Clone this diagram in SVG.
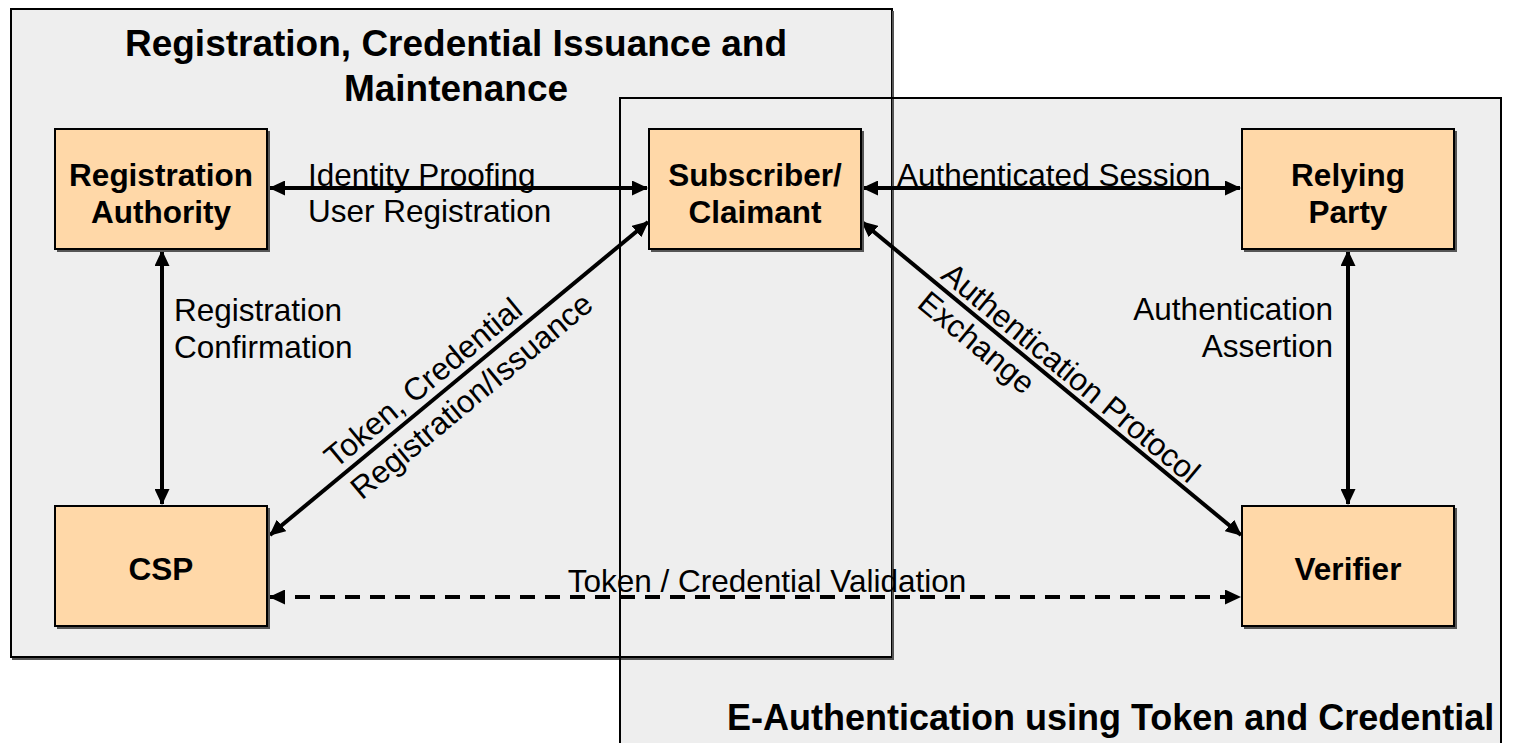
<svg xmlns="http://www.w3.org/2000/svg" width="1524" height="743" viewBox="0 0 1524 743">
<style>
.cont{fill:#eeeeee;stroke:none}
.cb{fill:none;stroke:#000;stroke-width:2}
.node{fill:#ffd8a8;stroke:#000;stroke-width:2}
.shadow{fill:none;stroke:#555;stroke-width:2}
.nl{font-family:"Liberation Sans",Arial,sans-serif;font-weight:bold;font-size:31.5px;fill:#000;text-anchor:middle}
.title{font-family:"Liberation Sans",Arial,sans-serif;font-weight:bold;fill:#000}
.el{font-family:"Liberation Sans",Arial,sans-serif;font-size:31.5px;fill:#000}
.edge{fill:none;stroke:#000;stroke-width:4;marker-start:url(#ah);marker-end:url(#ah)}
.dash{stroke-dasharray:15 10}
</style>
<defs>
<marker id="ah" viewBox="0 0 16 15" refX="15" refY="7.5" markerWidth="16" markerHeight="15" markerUnits="userSpaceOnUse" orient="auto-start-reverse">
<path d="M0,0 L16,7.5 L0,15 Z" fill="#000"/>
</marker>
</defs>
<rect width="1524" height="743" fill="#fff"/>
<g id="container-registration">
<rect class="cont" x="11" y="9" width="881" height="648"/>
</g>
<g id="container-eauth">
<rect class="cont" x="620" y="98" width="881" height="660"/>
</g>
<rect class="cb" x="11" y="9" width="881" height="648"/>
<path d="M12,659 H893 V11" class="shadow"/>
<rect class="cb" x="620" y="98" width="881" height="660"/>
<text class="title" font-size="37" text-anchor="middle" x="456" y="56">Registration, Credential Issuance and</text>
<text class="title" font-size="37" text-anchor="middle" x="456" y="101">Maintenance</text>
<text class="title" font-size="36" x="727" y="730">E-Authentication using Token and Credential</text>

<g id="connectors">
<line class="edge" x1="270" y1="188" x2="647" y2="188"/>
<line class="edge" x1="863" y1="188" x2="1240" y2="188"/>
<line class="edge" x1="162" y1="251" x2="162" y2="504"/>
<line class="edge" x1="1348" y1="251" x2="1348" y2="504"/>
<line class="edge" x1="648" y1="222" x2="270" y2="535"/>
<line class="edge" x1="862" y1="222" x2="1241" y2="535"/>
<line class="edge dash" x1="270" y1="597" x2="1240" y2="597"/>
<text class="el" x="308" y="186">Identity Proofing</text>
<text class="el" x="308" y="222">User Registration</text>
<text class="el" x="897" y="186">Authenticated Session</text>
<text class="el" x="174" y="321">Registration</text>
<text class="el" x="174" y="358">Confirmation</text>
<text class="el" x="1333" y="320" text-anchor="end">Authentication</text>
<text class="el" x="1333" y="357" text-anchor="end">Assertion</text>
<text class="el" x="767" y="592" text-anchor="middle">Token / Credential Validation</text>
<text class="el" transform="translate(342,477) rotate(-39.66)"><tspan x="0" y="-10">Token, Credential</tspan><tspan x="0" y="31">Registration/Issuance</tspan></text>
<text class="el" transform="translate(935,283) rotate(39.7)"><tspan x="0" y="-7">Authentication Protocol</tspan><tspan x="0" y="30">Exchange</tspan></text>
</g>

<g id="node-ra">
<path d="M57,251 H269 V131" class="shadow"/>
<rect class="node" x="55" y="129" width="212" height="120"/>
<text class="nl" x="161" y="186">Registration</text>
<text class="nl" x="161" y="223">Authority</text>
</g>
<g id="node-subscriber">
<path d="M651,251 H863 V131" class="shadow"/>
<rect class="node" x="649" y="129" width="212" height="120"/>
<text class="nl" x="755" y="186">Subscriber/</text>
<text class="nl" x="755" y="223">Claimant</text>
</g>
<g id="node-rp">
<path d="M1244,251 H1456 V131" class="shadow"/>
<rect class="node" x="1242" y="129" width="212" height="120"/>
<text class="nl" x="1348" y="186">Relying</text>
<text class="nl" x="1348" y="223">Party</text>
</g>
<g id="node-csp">
<path d="M57,628 H269 V508" class="shadow"/>
<rect class="node" x="55" y="506" width="212" height="120"/>
<text class="nl" x="161" y="580">CSP</text>
</g>
<g id="node-verifier">
<path d="M1244,628 H1456 V508" class="shadow"/>
<rect class="node" x="1242" y="506" width="212" height="120"/>
<text class="nl" x="1348" y="580">Verifier</text>
</g>
</svg>
